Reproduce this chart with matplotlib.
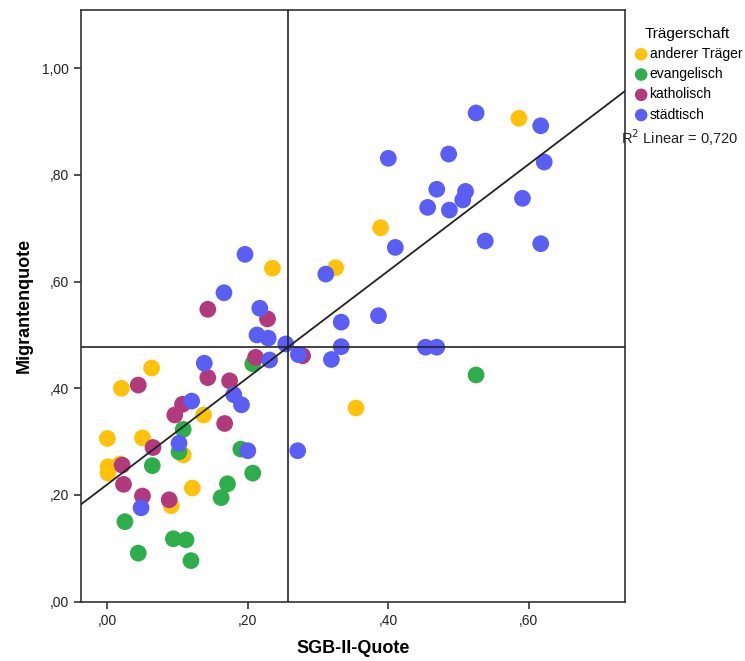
import numpy as np
import matplotlib.pyplot as plt

plt.rcParams['font.family'] = ['Liberation Sans', 'DejaVu Sans']

# SGB-II-Quote (x) and Migrantenquote (y) per Träger
anderer_x = [0.586, 0.389, 0.325, 0.235, 0.354, 0.063, 0.020, 0.137, 0.000, 0.050,
             0.108, 0.001, 0.001, 0.018, 0.121, 0.091]
anderer_y = [0.906, 0.701, 0.626, 0.625, 0.363, 0.438, 0.400, 0.350, 0.306, 0.307,
             0.275, 0.253, 0.241, 0.258, 0.213, 0.180]

evang_x = [0.525, 0.207, 0.108, 0.102, 0.190, 0.064, 0.207, 0.171, 0.162, 0.025,
           0.094, 0.112, 0.044, 0.119]
evang_y = [0.425, 0.446, 0.323, 0.281, 0.286, 0.255, 0.241, 0.221, 0.195, 0.150,
           0.118, 0.116, 0.091, 0.077]

kath_x = [0.278, 0.143, 0.228, 0.211, 0.143, 0.174, 0.044, 0.107, 0.096, 0.167,
          0.065, 0.021, 0.023, 0.050, 0.088]
kath_y = [0.461, 0.548, 0.530, 0.458, 0.420, 0.414, 0.406, 0.370, 0.350, 0.334,
          0.289, 0.256, 0.220, 0.198, 0.191]

staedt_x = [0.525, 0.617, 0.622, 0.400, 0.486, 0.469, 0.510, 0.506, 0.456, 0.487,
            0.591, 0.410, 0.538, 0.617, 0.311, 0.333, 0.386, 0.333, 0.319, 0.453,
            0.469, 0.196, 0.166, 0.217, 0.213, 0.229, 0.254, 0.272, 0.231, 0.138,
            0.180, 0.191, 0.120, 0.102, 0.200, 0.048, 0.271]
staedt_y = [0.916, 0.892, 0.824, 0.831, 0.839, 0.773, 0.769, 0.753, 0.739, 0.734,
            0.756, 0.664, 0.676, 0.671, 0.614, 0.524, 0.536, 0.478, 0.454, 0.477,
            0.477, 0.651, 0.579, 0.550, 0.500, 0.494, 0.483, 0.463, 0.453, 0.447,
            0.388, 0.369, 0.376, 0.297, 0.283, 0.176, 0.283]

groups = ['anderer Träger', 'evangelisch', 'katholisch', 'städtisch']
colors = ['#FFC20A', '#2EAD4B', '#B23A7C', '#5A5EF5']

mean_x = 0.257
mean_y = 0.477
fit_intercept = 0.220
fit_slope = 1.0
r2 = 0.720

fig = plt.figure(figsize=(7.45, 6.61), dpi=100)
ax = fig.add_axes([0.1083, 0.0897, 0.7306, 0.8952])

xs = [anderer_x, evang_x, kath_x, staedt_x]
ys = [anderer_y, evang_y, kath_y, staedt_y]
for gx, gy, name, col in zip(xs, ys, groups, colors):
    ax.scatter(gx, gy, s=145, c=col, edgecolors='none', label=name, zorder=2)

xmin, xmax = -0.038, 0.737
ax.set_xlim(xmin, xmax)
ax.set_ylim(0, 1.109)

# reference lines at the means and linear fit
ax.axhline(mean_y, color='#222222', lw=1.2, zorder=3)
ax.axvline(mean_x, color='#222222', lw=1.2, zorder=3)
fx = np.array([xmin, xmax])
ax.plot(fx, fit_intercept + fit_slope * fx, color='#222222', lw=1.3, zorder=3)

ax.set_xticks([0, 0.2, 0.4, 0.6])
ax.set_xticklabels([',00', ',20', ',40', ',60'])
ax.set_yticks([0, 0.2, 0.4, 0.6, 0.8, 1.0])
ax.set_yticklabels([',00', ',20', ',40', ',60', ',80', '1,00'])
ax.tick_params(direction='out', length=5, width=1.2, colors='#333333',
               labelsize=10, labelcolor='#222222')
for sp in ax.spines.values():
    sp.set_color('#333333')
    sp.set_linewidth(1.2)

ax.set_xlabel('SGB-II-Quote', fontsize=13, fontweight='bold', labelpad=9)
ax.set_ylabel('Migrantenquote', fontsize=13, fontweight='bold', labelpad=7)

leg = ax.legend(loc='upper left', bbox_to_anchor=(0.842, 0.968),
                bbox_transform=fig.transFigure, frameon=False, title='Trägerschaft',
                fontsize=10, title_fontsize=11, handletextpad=0.0,
                borderaxespad=0, labelspacing=0.45, markerscale=0.75,
                handlelength=1.2, alignment='center')
fig.text(0.912, 0.792, 'R$^2$ Linear = 0,720', fontsize=10.5, ha='center',
         va='center', color='#222222')

fig.savefig('out.png', dpi=100)
